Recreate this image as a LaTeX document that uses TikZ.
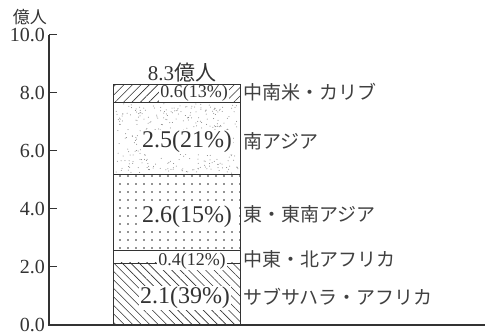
\documentclass[tikz,border=0pt]{standalone}
\usepackage{fontspec}
\setmainfont{Liberation Serif}
\newfontfamily\jp{Noto Sans CJK JP}
\usetikzlibrary{patterns.meta}

\tikzset{
	frame/.style={draw=black!80, line width=0.8pt},
	value/.style={fill=white, inner sep=1pt, text=black!80, font=\fontsize{24}{24}\selectfont},
	smallvalue/.style={value, font=\fontsize{18}{18}\selectfont},
	region/.style={anchor=west, inner sep=0pt, text=black!75, font=\jp\fontsize{19}{19}\selectfont},
	ticklabel/.style={anchor=east, inner sep=0pt, text=black!80, font=\fontsize{20}{20}\selectfont},
}

\begin{document}
\begin{tikzpicture}[x=1pt, y=29pt]
	\useasboundingbox (-49,-0.3793) rectangle (440,11.2069);

	% fillings of the bar
	\fill[pattern={Lines[angle=-45,distance=6pt,line width=0.6pt]}, pattern color=black!80] (64,0) rectangle (191,2.14);
	\fill[pattern={Dots[distance=8pt,radius=0.8pt]}, pattern color=black!85] (64,2.57) rectangle (191,5.19);
	\pgfmathsetseed{17}
	\foreach \i in {1,...,360} {
		\pgfmathsetmacro\rx{66+123*rnd}
		\pgfmathsetmacro\ry{5.23+2.40*rnd}
		\fill[black!50] (\rx,\ry) circle (0.5pt);
	}
	\fill[pattern={Lines[angle=45,distance=6pt,line width=0.6pt]}, pattern color=black!80] (64,7.67) rectangle (191,8.3);
	\draw[frame] (64,2.14) -- (191,2.14);

	% values in the bar
	\node[smallvalue] (latin) at (145,7.99) {0.6(13\%)};
	\node[value] (south) at (138,6.31) {2.5(21\%)};
	\node[value] (east) at (138,3.75) {2.6(15\%)};
	\node[smallvalue] (mideast) at (143,2.2) {0.4(12\%)};
	\node[value] (africa) at (136,0.93) {2.1(39\%)};

	% bar
	\draw[frame] (64,0) rectangle (191,8.3);
	\draw[frame] (64,7.67) -- (191,7.67);
	\draw[frame] (64,5.19) -- (191,5.19);
	\draw[frame] (64,2.57) -- (191,2.57);
	\node[text=black!80, font=\fontsize{21}{21}\selectfont] (total) at (133,8.69) {8.3{\jp 億人}};

	% regions
	\node[region] (latinname) at (194,8.03) {中南米・カリブ};
	\node[region] (southname) at (194,6.34) {南アジア};
	\node[region] (eastname) at (194,3.83) {東・東南アジア};
	\node[region] (mideastname) at (194,2.28) {中東・北アフリカ};
	\node[region] (africaname) at (194,0.97) {サブサハラ・アフリカ};

	% axes
	\draw[black!80, line width=1.2pt] (0,10) -- (0,0) -- (436,0);
	\foreach \v in {2,4,6,8,10}
		\draw[black!80, line width=1pt] (0,\v) -- (8,\v);
	\foreach \v/\t in {0/0.0,2/2.0,4/4.0,6/6.0,8/8.0,10/10.0}
		\node[ticklabel] (tick\v) at (-4,\v) {\t};
	\node[text=black!80, font=\jp\fontsize{17}{17}\selectfont] (unit) at (-19,10.62) {億人};
\end{tikzpicture}
\end{document}
